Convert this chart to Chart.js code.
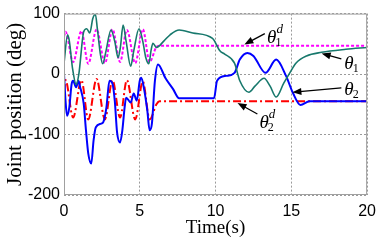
<!DOCTYPE html>
<html lang="en">
<head>
  <meta charset="UTF-8">
  <title>Joint position</title>
  <script src="https://cdn.jsdelivr.net/npm/chart.js"></script>
  <style>
    html, body { margin: 0; padding: 0; background: #fff; }
    #wrap { width: 383px; height: 245px; }
  </style>
</head>
<body>
  <div id="wrap"><canvas id="jointChart"></canvas></div>

  <script>
    // theta1 (actual joint 1)
    const t1 = [0, 0.24, 0.35, 0.56, 0.8, 0.98, 1.3, 1.5, 1.7, 1.9, 2.07, 2.2, 2.4, 2.55, 2.77, 3.1, 3.35, 3.57, 3.72, 3.9,
      4.1, 4.4, 4.6, 4.95, 5.2, 5.4, 5.6, 5.75, 5.87, 6.1, 6.6, 7.0, 7.6, 8.5, 9.8, 10.3, 10.6, 11.25, 11.6, 12.2,
      12.6, 13.2, 13.6, 14.0, 14.5, 14.9, 15.3, 16.0, 17.0, 18.6, 20];
    const theta1 = [18, 65, 55, 10, -17, 0, 70, 75, 68, 92, 99, 75, 33, 17, 38, 73, 54, 27, 44, 81,
      54, 13, 38, 75, 54, 27, 17, 40, 51, 44, 55, 65, 73, 68, 59, 38, 33, 18, -11, -30,
      -20, -7, -20, -38, -15, 2, 18, 30, 36, 41, 44];

    // theta2 (actual joint 2)
    const t2 = [0, 0.1, 0.2, 0.35, 0.5, 0.6, 0.8, 0.95, 1.05, 1.3, 1.45, 1.6, 1.8, 1.95, 2.1, 2.45, 2.6, 2.8, 3.0, 3.2,
      3.35, 3.5, 3.7, 3.85, 4.0, 4.1, 4.4, 4.6, 4.8, 5.0, 5.1, 5.3, 5.5, 5.65, 5.8, 6.0, 6.2, 6.7, 7.2, 7.6,
      9.9, 10.1, 10.7, 11.25, 11.6, 12.1, 12.5, 13.3, 14.0, 14.65, 15.1, 15.6, 16.2, 20];
    const theta2 = [0, -44, -69, -55, -17, -11, -22, -11, -20, -49, -93, -131, -148, -110, -88, -82, -79, -55, -11, -16,
      -44, -96, -113, -93, -55, -39, -47, -32, -44, -11, -6, -27, -61, -93, -82, -11, 16, -7, -25, -40,
      -40, -11, -3, 2, 24, 35, 30, 2, 24, -3, -31, -51, -45, -45];

    // desired trajectories
    const td = [0, 0.1, 0.6, 1.15, 1.6, 2.15, 2.7, 3.2, 3.7, 4.15, 4.7, 5.2, 5.65, 6.1, 6.3, 20];
    const theta1d = [62, 70, 20, 71, 17, 74, 18, 74, 20, 73, 18, 74, 20, 45, 47, 47];
    const theta2d = [-30, -10, -72, -10, -75, -8, -75, -10, -72, -10, -75, -12, -75, -50, -45, -45];

    const xTicks = [0, 5, 10, 15, 20];
    const yTicks = [-200, -100, 0, 100];

    const pts = (xs, ys) => xs.map((x, i) => ({ x: x, y: ys[i] }));

    // labels with arrows, in data units
    const notes = [
      { sub: '1', sup: 'd', tx: 13.4, ty: 52, from: [13.25, 67], to: [11.9, 49] },
      { sub: '1', sup: '', tx: 18.5, ty: 8, from: [18.3, 25], to: [17.0, 34] },
      { sub: '2', sup: '', tx: 18.5, ty: -34, from: [18.3, -23], to: [15.07, -30] },
      { sub: '2', sup: 'd', tx: 12.9, ty: -90, from: [12.76, -66], to: [11.45, -48] },
    ];

    const serif = '"Liberation Serif", "Times New Roman", serif';

    const framePlugin = {
      id: 'frame',
      afterDatasetsDraw(chart) {
        const { ctx, chartArea: a, scales: { x, y } } = chart;
        ctx.save();
        ctx.strokeStyle = '#a0a0a0';
        ctx.lineWidth = 1;
        ctx.strokeRect(a.left + 0.5, a.top + 0.5, a.right - a.left - 1, a.bottom - a.top - 1);

        ctx.fillStyle = '#000';
        ctx.strokeStyle = '#000';
        ctx.textBaseline = 'alphabetic';
        notes.forEach(n => {
          // arrow
          const x0 = x.getPixelForValue(n.from[0]), y0 = y.getPixelForValue(n.from[1]);
          const x1 = x.getPixelForValue(n.to[0]), y1 = y.getPixelForValue(n.to[1]);
          const ang = Math.atan2(y1 - y0, x1 - x0);
          const hl = 9, hw = 3.5;
          ctx.lineWidth = 1.3;
          ctx.beginPath();
          ctx.moveTo(x0, y0);
          ctx.lineTo(x1 - Math.cos(ang) * hl * 0.8, y1 - Math.sin(ang) * hl * 0.8);
          ctx.stroke();
          ctx.beginPath();
          ctx.moveTo(x1, y1);
          ctx.lineTo(x1 - Math.cos(ang) * hl + Math.sin(ang) * hw, y1 - Math.sin(ang) * hl - Math.cos(ang) * hw);
          ctx.lineTo(x1 - Math.cos(ang) * hl - Math.sin(ang) * hw, y1 - Math.sin(ang) * hl + Math.cos(ang) * hw);
          ctx.closePath();
          ctx.fill();

          // theta label
          const px = x.getPixelForValue(n.tx), py = y.getPixelForValue(n.ty);
          ctx.font = 'italic 19px ' + serif;
          ctx.fillText('θ', px, py);
          const w = ctx.measureText('θ').width;
          ctx.font = '12px ' + serif;
          ctx.fillText(n.sub, px + w - 1, py + 3);
          if (n.sup) {
            ctx.font = 'italic 13px ' + serif;
            ctx.fillText(n.sup, px + w, py - 10);
          }
        });
        ctx.restore();
      }
    };

    const ctx = document.getElementById('jointChart').getContext('2d');
    new Chart(ctx, {
      type: 'line',
      data: {
        datasets: [
          { label: 'theta1', data: pts(t1, theta1), borderColor: '#17786c', borderWidth: 1.6 },
          { label: 'theta2', data: pts(t2, theta2), borderColor: '#0000ff', borderWidth: 2 },
          { label: 'theta1d', data: pts(td, theta1d), borderColor: '#ff00ff', borderWidth: 2, borderDash: [3, 2] },
          { label: 'theta2d', data: pts(td, theta2d), borderColor: '#ff0000', borderWidth: 2, borderDash: [8, 3, 2, 3] },
        ],
      },
      options: {
        responsive: true,
        maintainAspectRatio: false,
        animation: false,
        layout: { padding: { top: 12, right: 15, left: 0, bottom: 0 } },
        elements: {
          point: { radius: 0 },
          line: { cubicInterpolationMode: 'monotone', fill: false },
        },
        plugins: { legend: { display: false }, tooltip: { enabled: false } },
        scales: {
          x: {
            type: 'linear',
            min: 0, max: 20,
            afterBuildTicks: s => { s.ticks = xTicks.map(v => ({ value: v })); },
            afterFit: s => { s.height = 50; },
            grid: { color: '#9a9a9a', lineWidth: 1, drawTicks: false },
            border: { display: false, dash: [2, 2] },
            ticks: { color: '#000', padding: 7, font: { family: '"Liberation Sans", Arial, sans-serif', size: 16 } },
            title: { display: true, text: 'Time(s)', color: '#000', padding: { top: 0, bottom: 6 },
              font: { family: serif, size: 19 } },
          },
          y: {
            min: -200, max: 100,
            afterBuildTicks: s => { s.ticks = yTicks.map(v => ({ value: v })); },
            afterFit: s => { s.width = 64; },
            grid: { color: '#9a9a9a', lineWidth: 1, drawTicks: false },
            border: { display: false, dash: [2, 2] },
            ticks: { color: '#000', padding: 4, font: { family: '"Liberation Sans", Arial, sans-serif', size: 16 } },
            title: { display: true, text: 'Joint position (deg)', color: '#000', padding: { top: 4, bottom: 0 },
              font: { family: serif, size: 21, lineHeight: 1.1 } },
          },
        },
      },
      plugins: [framePlugin],
    });
  </script>
</body>
</html>
